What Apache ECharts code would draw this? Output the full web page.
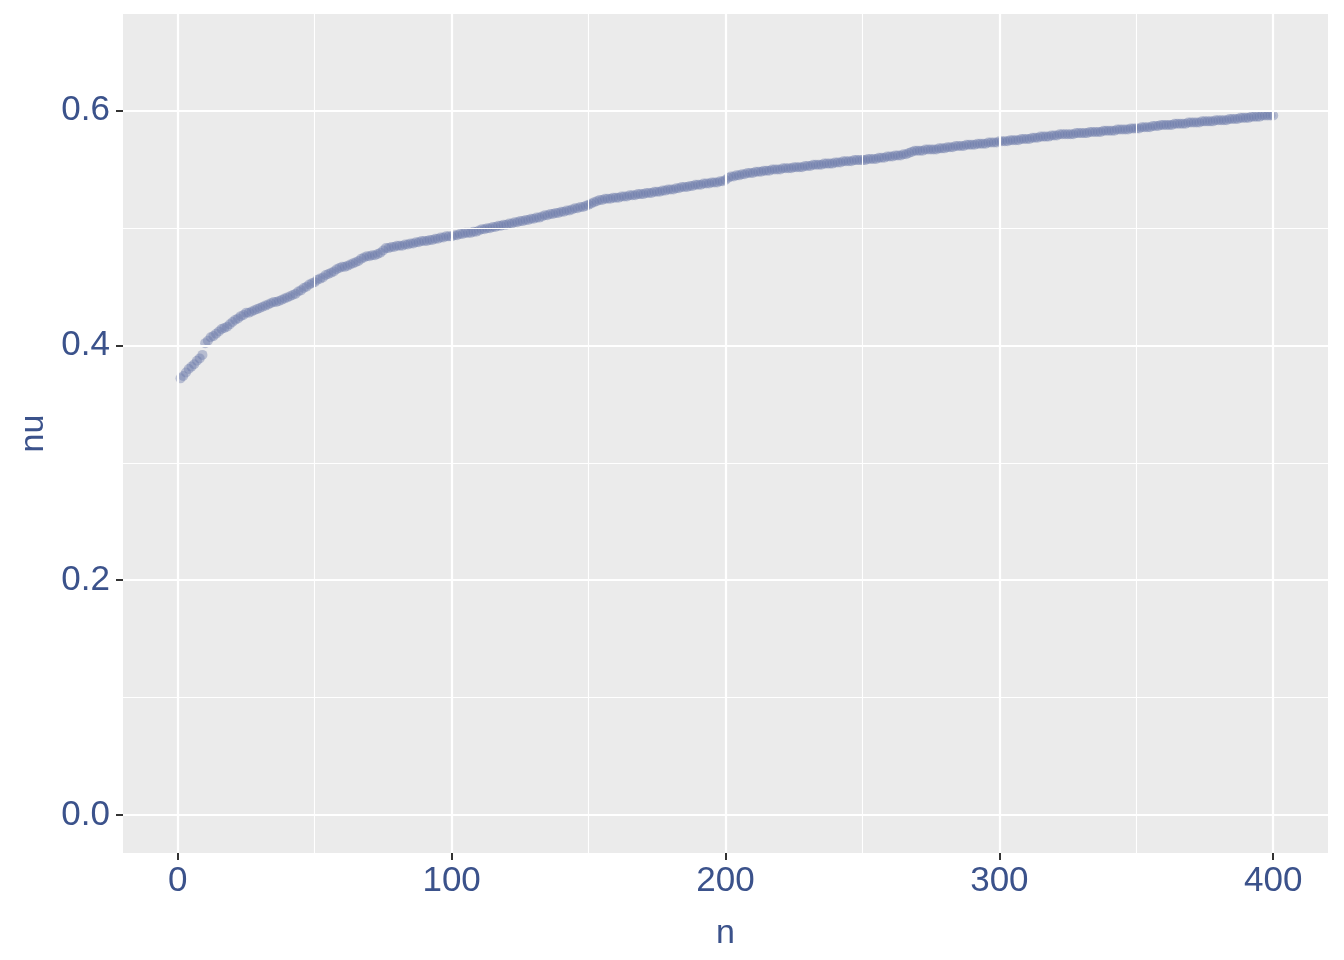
<!DOCTYPE html>
<html>
<head>
<meta charset="utf-8">
<script src="https://cdn.jsdelivr.net/npm/echarts@6/dist/echarts.min.js"></script>
<style>
  html, body { margin: 0; padding: 0; background: #fff; }
  #chart { width: 1344px; height: 960px; }
</style>
</head>
<body>
<div id="chart"></div>
<script>
// nu for n = 1..400
const nuValues = [
  0.372, 0.374, 0.377, 0.380, 0.382, 0.384, 0.387, 0.389, 0.392, 0.402,
  0.404, 0.407, 0.408, 0.410, 0.412, 0.414, 0.415, 0.416, 0.418, 0.420,
  0.422, 0.423, 0.425, 0.426, 0.428, 0.428, 0.429, 0.430, 0.431, 0.432,
  0.433, 0.434, 0.435, 0.436, 0.437, 0.437, 0.438, 0.439, 0.440, 0.441,
  0.442, 0.443, 0.444, 0.446, 0.447, 0.449, 0.450, 0.452, 0.453, 0.454,
  0.456, 0.457, 0.458, 0.460, 0.461, 0.462, 0.463, 0.465, 0.466, 0.467,
  0.467, 0.468, 0.469, 0.470, 0.471, 0.472, 0.474, 0.475, 0.476, 0.476,
  0.477, 0.477, 0.478, 0.479, 0.481, 0.483, 0.483, 0.484, 0.484, 0.485,
  0.485, 0.485, 0.486, 0.486, 0.487, 0.487, 0.488, 0.488, 0.489, 0.489,
  0.489, 0.490, 0.490, 0.491, 0.491, 0.492, 0.492, 0.493, 0.493, 0.493,
  0.494, 0.494, 0.495, 0.495, 0.496, 0.496, 0.496, 0.497, 0.497, 0.498,
  0.499, 0.499, 0.500, 0.500, 0.501, 0.501, 0.502, 0.502, 0.503, 0.503,
  0.504, 0.504, 0.505, 0.505, 0.506, 0.506, 0.507, 0.507, 0.508, 0.508,
  0.509, 0.509, 0.510, 0.511, 0.511, 0.512, 0.512, 0.513, 0.513, 0.514,
  0.514, 0.515, 0.515, 0.516, 0.517, 0.517, 0.518, 0.518, 0.519, 0.520,
  0.521, 0.522, 0.523, 0.524, 0.524, 0.525, 0.525, 0.525, 0.526, 0.526,
  0.526, 0.527, 0.527, 0.527, 0.528, 0.528, 0.528, 0.529, 0.529, 0.529,
  0.530, 0.530, 0.530, 0.531, 0.531, 0.531, 0.532, 0.532, 0.533, 0.533,
  0.533, 0.534, 0.534, 0.535, 0.535, 0.535, 0.536, 0.536, 0.537, 0.537,
  0.537, 0.538, 0.538, 0.538, 0.539, 0.539, 0.539, 0.540, 0.540, 0.541,
  0.543, 0.544, 0.544, 0.545, 0.545, 0.546, 0.546, 0.547, 0.547, 0.547,
  0.548, 0.548, 0.548, 0.549, 0.549, 0.549, 0.550, 0.550, 0.550, 0.550,
  0.551, 0.551, 0.551, 0.551, 0.552, 0.552, 0.552, 0.552, 0.553, 0.553,
  0.553, 0.554, 0.554, 0.554, 0.554, 0.555, 0.555, 0.555, 0.555, 0.556,
  0.556, 0.556, 0.557, 0.557, 0.557, 0.557, 0.558, 0.558, 0.558, 0.558,
  0.558, 0.559, 0.559, 0.559, 0.559, 0.560, 0.560, 0.560, 0.561, 0.561,
  0.561, 0.562, 0.562, 0.562, 0.563, 0.563, 0.564, 0.565, 0.566, 0.566,
  0.566, 0.566, 0.567, 0.567, 0.567, 0.567, 0.567, 0.568, 0.568, 0.568,
  0.569, 0.569, 0.569, 0.570, 0.570, 0.570, 0.570, 0.571, 0.571, 0.571,
  0.571, 0.572, 0.572, 0.572, 0.572, 0.573, 0.573, 0.573, 0.573, 0.574,
  0.574, 0.574, 0.574, 0.575, 0.575, 0.575, 0.575, 0.576, 0.576, 0.576,
  0.576, 0.577, 0.577, 0.577, 0.578, 0.578, 0.578, 0.578, 0.579, 0.579,
  0.579, 0.580, 0.580, 0.580, 0.580, 0.580, 0.580, 0.581, 0.581, 0.581,
  0.581, 0.581, 0.582, 0.582, 0.582, 0.582, 0.582, 0.583, 0.583, 0.583,
  0.583, 0.583, 0.584, 0.584, 0.584, 0.584, 0.584, 0.585, 0.585, 0.585,
  0.585, 0.586, 0.586, 0.586, 0.586, 0.587, 0.587, 0.587, 0.588, 0.588,
  0.588, 0.588, 0.588, 0.589, 0.589, 0.589, 0.589, 0.589, 0.590, 0.590,
  0.590, 0.590, 0.590, 0.591, 0.591, 0.591, 0.591, 0.591, 0.592, 0.592,
  0.592, 0.592, 0.592, 0.593, 0.593, 0.593, 0.593, 0.594, 0.594, 0.594,
  0.594, 0.595, 0.595, 0.595, 0.595, 0.596, 0.596, 0.596, 0.596, 0.596
];

const xTicks = [0, 100, 200, 300, 400];
const xMinor = [50, 150, 250, 350];
const yTicks = [0, 0.2, 0.4, 0.6];
const yMinor = [0.1, 0.3, 0.5];

const textColor = '#3B528B';
const font = 'Liberation Sans, Arial, sans-serif';

const points = nuValues.map((v, i) => [i + 1, v]);

const gridLines = (vals, dim, width) => vals.map(v => ({
  [dim]: v,
  lineStyle: { color: '#ffffff', width: width, type: 'solid' }
}));

const chart = echarts.init(document.getElementById('chart'));

const option = {
  animation: false,
  backgroundColor: '#ffffff',
  grid: {
    left: 123, right: 16, top: 14, bottom: 107,
    show: true,
    backgroundColor: '#EBEBEB',
    borderWidth: 0
  },
  xAxis: {
    type: 'value',
    min: -20,
    max: 420,
    name: 'n',
    nameLocation: 'middle',
    nameGap: 64,
    nameTextStyle: { color: textColor, fontSize: 34, fontFamily: font },
    axisLine: { show: true, onZero: false, lineStyle: { color: '#EBEBEB', width: 0, opacity: 0 } },
    splitLine: { show: false },
    axisTick: {
      show: true, length: 7, customValues: xTicks,
      lineStyle: { color: '#333333', width: 2 }
    },
    axisLabel: {
      customValues: xTicks, color: textColor, fontSize: 35, fontFamily: font, margin: 11
    }
  },
  yAxis: {
    type: 'value',
    min: -0.0325,
    max: 0.6825,
    name: 'nu',
    nameLocation: 'middle',
    nameGap: 70,
    nameRotate: 90,
    nameTextStyle: { color: textColor, fontSize: 34, fontFamily: font },
    axisLine: { show: true, onZero: false, lineStyle: { color: '#EBEBEB', width: 0, opacity: 0 } },
    splitLine: { show: false },
    axisTick: {
      show: true, length: 7, customValues: yTicks,
      lineStyle: { color: '#333333', width: 2 }
    },
    axisLabel: {
      customValues: yTicks, color: textColor, fontSize: 35, fontFamily: font, margin: 13,
      formatter: v => v.toFixed(1)
    }
  },
  series: [
    {
      // panel grid lines
      type: 'scatter',
      data: [],
      z: 1,
      silent: true,
      markLine: {
        silent: true,
        symbol: 'none',
        label: { show: false },
        animation: false,
        data: [
          ...gridLines(xMinor, 'xAxis', 1.1),
          ...gridLines(yMinor, 'yAxis', 1.1),
          ...gridLines(xTicks, 'xAxis', 2.2),
          ...gridLines(yTicks, 'yAxis', 2.2)
        ]
      }
    },
    {
      type: 'scatter',
      z: 3,
      data: points,
      symbol: 'circle',
      symbolSize: 10,
      itemStyle: { color: '#6676A8', opacity: 0.4 }
    }
  ]
};

chart.setOption(option);
</script>
</body>
</html>
